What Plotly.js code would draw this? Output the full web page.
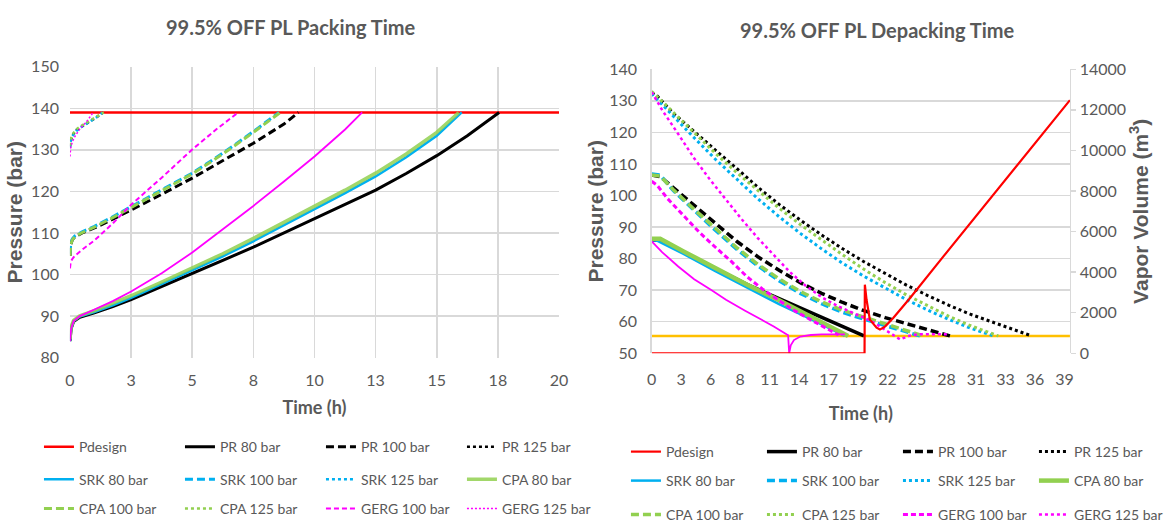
<!DOCTYPE html>
<html>
<head>
<meta charset="utf-8">
<script src="https://cdn.plot.ly/plotly-3.0.1.min.js"></script>
<style>html,body{margin:0;padding:0;background:#fff;}#chart{width:1170px;height:527px;}</style>
</head>
<body>
<div id="chart"></div>
<script>
// ---------- Packing time (left chart) ----------
const packTickVals = [0, 2.5, 5, 7.5, 10, 12.5, 15, 17.5, 20];
const packTickText = ['0', '3', '5', '8', '10', '13', '15', '18', '20'];

const packT_Pdesign = [0, 20];
const packP_Pdesign = [139, 139];

const packT_PR80 = [0, 0.05, 0.15, 0.4, 1, 1.75, 2.5, 3.75, 5, 6.25, 7.5, 8.75, 10, 11.25, 12.5, 13.75, 15, 16.25, 17.55];
const packP_PR80 = [84, 87, 88.7, 89.7, 90.8, 92.3, 94, 97.1, 100.3, 103.4, 106.6, 110, 113.4, 116.8, 120.3, 124.3, 128.6, 133.4, 139];
const packT_PR100 = [0, 0.03, 0.1, 0.2, 0.5, 1, 1.75, 2.5, 3.75, 5, 6.25, 7.5, 8.75, 9.34];
const packP_PR100 = [104.5, 107.2, 108.4, 109.1, 110, 111.2, 113.3, 115.5, 119.3, 123.2, 127.3, 131.6, 136.2, 139];
const packT_PR125 = [0, 0.03, 0.1, 0.27, 0.5, 0.82, 1.1, 1.36];
const packP_PR125 = [130.8, 132.3, 133.5, 134.8, 135.7, 136.8, 137.9, 139];

const packT_SRK80 = [0, 0.05, 0.15, 0.4, 1, 1.75, 2.5, 3.75, 5, 6.25, 7.5, 8.75, 10, 11.25, 12.5, 13.75, 15, 16.02];
const packP_SRK80 = [84, 87, 88.8, 89.9, 91, 92.6, 94.4, 97.7, 101, 104.4, 108, 111.8, 115.7, 119.6, 123.6, 128.2, 133.4, 139];
const packT_SRK100 = [0, 0.03, 0.1, 0.2, 0.5, 1, 1.75, 2.5, 3.75, 5, 6.25, 7.5, 8.55];
const packP_SRK100 = [105, 107.5, 108.6, 109.3, 110.3, 111.6, 113.9, 116.3, 120.2, 124.4, 129.2, 134.4, 139];
const packT_SRK125 = [0, 0.03, 0.1, 0.27, 0.5, 0.82, 1.1, 1.34];
const packP_SRK125 = [130.5, 132, 133.3, 134.6, 135.6, 136.8, 137.9, 139];

const packT_CPA80 = [0, 0.05, 0.15, 0.4, 1, 1.75, 2.5, 3.75, 5, 6.25, 7.5, 8.75, 10, 11.25, 12.5, 13.75, 15, 15.9];
const packP_CPA80 = [84.5, 87.5, 89, 90.1, 91.3, 93, 94.9, 98.2, 101.6, 105, 108.7, 112.5, 116.4, 120.3, 124.4, 129, 134.2, 139];
const packT_CPA100 = [0, 0.03, 0.1, 0.2, 0.5, 1, 1.75, 2.5, 3.75, 5, 6.25, 7.5, 8.6];
const packP_CPA100 = [104.5, 107.2, 108.4, 109.1, 110.1, 111.4, 113.7, 116.1, 120, 124.2, 129, 134.2, 139];
const packT_CPA125 = [0, 0.03, 0.1, 0.27, 0.5, 0.82, 1.1, 1.38];
const packP_CPA125 = [131, 132.5, 133.7, 135, 135.9, 137, 138, 139];

const packT_GERG80 = [0, 0.05, 0.15, 0.4, 1, 1.75, 2.5, 3.75, 5, 6.25, 7.5, 8.75, 10, 11.25, 11.95];
const packP_GERG80 = [84, 87, 88.8, 90, 91.6, 93.6, 95.9, 100.3, 105.3, 110.8, 116.5, 122.4, 128.4, 134.9, 139];
const packT_GERG100 = [0, 0.03, 0.1, 0.2, 0.5, 1, 1.75, 2.5, 3.75, 5, 6, 6.88];
const packP_GERG100 = [101.5, 103, 103.8, 104.5, 106, 108.2, 112.3, 116.8, 123.3, 130.1, 135, 139];
const packT_GERG125 = [0, 0.03, 0.1, 0.2, 0.4, 0.68, 0.95];
const packP_GERG125 = [128.4, 130.5, 132, 133.2, 135, 136.8, 139];

// ---------- Depacking time (right chart) ----------
const depackTickVals = [0, 2.778, 5.556, 8.333, 11.111, 13.889, 16.667, 19.444, 22.222, 25, 27.778, 30.556, 33.333, 36.111, 38.889];
const depackTickText = ['0', '3', '6', '8', '11', '14', '17', '19', '22', '25', '28', '31', '33', '36', '39'];

const depT_Pmin = [0, 39.4];
const depP_Pmin = [55.5, 55.5];

const depT_Vapor = [0, 20.05, 20.08, 20.24, 20.55, 21.18, 21.5, 22, 22.75, 24.3, 27.5, 31.9, 35, 39.4];
const depV_Vapor = [0, 0, 3380, 2640, 1660, 1260, 1170, 1330, 1740, 2700, 4790, 7620, 9620, 12480];

const depT_PR80 = [0, 0.8, 3, 6, 9, 12, 15, 18, 20];
const depP_PR80 = [86, 85.8, 82, 76.9, 71.8, 67.3, 62.8, 58.4, 55.5];
const depT_PR100 = [0, 0.8, 2, 4, 6, 8, 10, 12, 14, 16, 18, 20, 22, 24, 26, 28.1];
const depP_PR100 = [106.5, 106, 102.6, 96.8, 91.1, 85.5, 80.6, 76.3, 72.4, 69, 66.1, 63.5, 61.3, 59.3, 57.5, 55.5];
const depT_PR125 = [0, 0.5, 2, 4, 6, 8, 10, 12, 14, 16, 18, 20, 22, 24, 26, 28, 30, 32, 34, 35.8];
const depP_PR125 = [132.5, 131.6, 126.2, 120.2, 114.4, 108.6, 102.6, 97.2, 92.2, 87.5, 83.1, 79, 75.2, 71.6, 68.3, 65.2, 62.4, 60.1, 57.6, 55.5];

const depT_SRK80 = [0, 0.5, 3, 6, 9, 12, 15, 17, 18.2];
const depP_SRK80 = [86, 85.7, 81.5, 76, 70.8, 65.6, 60.8, 57.6, 55.5];
const depT_SRK100 = [0, 0.8, 2, 4, 6, 8, 10, 12, 14, 16, 18, 20, 22, 24, 25.3];
const depP_SRK100 = [106.8, 106.5, 101.7, 95.2, 89, 83, 77.7, 73, 69, 65.7, 63, 60.8, 58.7, 56.8, 55.5];
const depT_SRK125 = [0, 2, 4, 6, 8, 10, 12, 14, 16, 18, 20, 22, 24, 26, 28, 30, 32.2];
const depP_SRK125 = [132.3, 125.2, 118.3, 111.5, 105.1, 99, 93.3, 88, 83.1, 78.5, 74.4, 70.6, 67, 63.7, 60.7, 58, 55.5];

const depT_CPA80 = [0, 0.8, 3, 6, 9, 12, 15, 17, 18.5];
const depP_CPA80 = [86.3, 86.3, 82.3, 76.9, 71.7, 66.8, 61.7, 58.3, 55.5];
const depT_CPA100 = [0, 0.8, 2, 4, 6, 8, 10, 12, 14, 16, 18, 20, 22, 24, 25.6];
const depP_CPA100 = [106.5, 106.2, 102, 95.6, 89.6, 83.5, 78.2, 73.6, 69.6, 66.3, 63.6, 61.5, 59.3, 57.2, 55.5];
const depT_CPA125 = [0, 2, 4, 6, 8, 10, 12, 14, 16, 18, 20, 22, 24, 26, 28, 30, 32, 32.65];
const depP_CPA125 = [133, 126.4, 119.8, 113.4, 107.3, 101.5, 96, 90.8, 85.9, 81.2, 76.6, 72.4, 68.5, 65, 61.7, 58.8, 56.2, 55.5];

const depT_GERG80 = [0, 1, 2.5, 4, 5.65, 7, 8.8, 10, 11.5, 12.85, 12.95, 13.1, 13.4, 14, 15, 16, 18.2];
const depP_GERG80 = [85.5, 82, 77.5, 73.5, 70, 67, 63.5, 61.3, 58.5, 55.7, 50, 52.5, 54.2, 55.3, 55.8, 56, 56];
const depT_GERG100 = [0, 0.5, 1.5, 3, 4.5, 6, 7.5, 9, 10.5, 12, 13.5, 15, 16.5, 17.6];
const depP_GERG100 = [104.5, 103.3, 99, 93.5, 88.3, 83.6, 79.1, 74.2, 70.2, 66.7, 63.4, 60.6, 57.9, 55.8];
const depT_GERG125 = [0, 1, 2.5, 4, 5.5, 7, 8.5, 10, 11.5, 13, 14.5, 16, 17.5, 19, 20.5, 21.5, 22.5, 23.4, 24.3, 25, 28];
const depP_GERG125 = [132.8, 127, 119.5, 111.8, 105, 98.6, 92.4, 86.5, 81, 75.8, 71.4, 67.8, 65, 62.8, 60.5, 58.5, 56.2, 54.4, 55.6, 56, 56];

// ---------- styling ----------
const RED = '#FF0000', BLK = '#000000', BLU = '#00B0F0', GRN = '#92D050', MAG = '#FF00FF', ORG = '#FFC000';
const DASH = '8px,4px', DASH_THIN = '5px,3px', DOT_THIN = '2px,2px';
const FONT = 'Lato, "Open Sans", sans-serif';
const FONT_WIDE = '"Liberation Sans", Arial, sans-serif';
const TXT = '#595959';
const GRID = '#D9D9D9';

function line(x, y, name, color, width, dash, xa, ya, legend, show, opacity) {
  return {
    type: 'scatter', mode: 'lines', x: x, y: y, name: name,
    line: {color: color, width: width, dash: dash || 'solid'},
    xaxis: xa, yaxis: ya, legend: legend, showlegend: show !== false,
    opacity: opacity === undefined ? 1 : opacity, hoverinfo: 'skip'
  };
}

const traces = [
  // left chart
  line(packT_Pdesign, packP_Pdesign, 'Pdesign', RED, 2.5, 'solid', 'x', 'y', 'legend'),
  line(packT_PR80, packP_PR80, 'PR 80 bar', BLK, 3, 'solid', 'x', 'y', 'legend'),
  line(packT_PR100, packP_PR100, 'PR 100 bar', BLK, 3, DASH, 'x', 'y', 'legend'),
  line(packT_PR125, packP_PR125, 'PR 125 bar', BLK, 2.5, 'dot', 'x', 'y', 'legend'),
  line(packT_SRK80, packP_SRK80, 'SRK 80 bar', BLU, 2.5, 'solid', 'x', 'y', 'legend2'),
  line(packT_SRK100, packP_SRK100, 'SRK 100 bar', BLU, 3, DASH, 'x', 'y', 'legend2'),
  line(packT_SRK125, packP_SRK125, 'SRK 125 bar', BLU, 2.5, 'dot', 'x', 'y', 'legend2'),
  line(packT_CPA80, packP_CPA80, 'CPA 80 bar', GRN, 3.5, 'solid', 'x', 'y', 'legend2', true, 0.85),
  line(packT_CPA100, packP_CPA100, 'CPA 100 bar', GRN, 3, DASH, 'x', 'y', 'legend3'),
  line(packT_CPA125, packP_CPA125, 'CPA 125 bar', GRN, 2.5, 'dot', 'x', 'y', 'legend3'),
  line(packT_GERG100, packP_GERG100, 'GERG 100 bar', MAG, 2, DASH_THIN, 'x', 'y', 'legend3'),
  line(packT_GERG125, packP_GERG125, 'GERG 125 bar', MAG, 1.5, DOT_THIN, 'x', 'y', 'legend3'),
  line(packT_GERG80, packP_GERG80, 'GERG 80 bar', MAG, 1.8, 'solid', 'x', 'y', 'legend', false),
  // right chart
  line(depT_Pmin, depP_Pmin, 'Pmin', ORG, 2.5, 'solid', 'x2', 'y2', 'legend4', false),
  line(depT_PR80, depP_PR80, 'PR 80 bar', BLK, 3.5, 'solid', 'x2', 'y2', 'legend4'),
  line(depT_PR100, depP_PR100, 'PR 100 bar', BLK, 3.5, DASH, 'x2', 'y2', 'legend4'),
  line(depT_PR125, depP_PR125, 'PR 125 bar', BLK, 3, 'dot', 'x2', 'y2', 'legend4'),
  line(depT_SRK80, depP_SRK80, 'SRK 80 bar', BLU, 2.5, 'solid', 'x2', 'y2', 'legend5'),
  line(depT_SRK100, depP_SRK100, 'SRK 100 bar', BLU, 3.5, DASH, 'x2', 'y2', 'legend5'),
  line(depT_SRK125, depP_SRK125, 'SRK 125 bar', BLU, 3, 'dot', 'x2', 'y2', 'legend5'),
  line(depT_CPA80, depP_CPA80, 'CPA 80 bar', GRN, 4.5, 'solid', 'x2', 'y2', 'legend5'),
  line(depT_CPA100, depP_CPA100, 'CPA 100 bar', GRN, 3.5, DASH, 'x2', 'y2', 'legend6'),
  line(depT_CPA125, depP_CPA125, 'CPA 125 bar', GRN, 3, 'dot', 'x2', 'y2', 'legend6'),
  line(depT_GERG100, depP_GERG100, 'GERG 100 bar', MAG, 3, DASH_THIN, 'x2', 'y2', 'legend6'),
  line(depT_GERG125, depP_GERG125, 'GERG 125 bar', MAG, 2.5, 'dot', 'x2', 'y2', 'legend6'),
  line(depT_GERG80, depP_GERG80, 'GERG 80 bar', MAG, 1.8, 'solid', 'x2', 'y2', 'legend4', false),
  line(depT_Vapor, depV_Vapor, 'Pdesign', RED, 2.2, 'solid', 'x2', 'y3', 'legend4')
];
// put the Pdesign (vapor volume) entry first in its legend row
traces[traces.length - 1].legendrank = 1;

const tickFont = {family: FONT, size: 16, color: TXT};
const xTitleFont = {family: FONT, size: 18, color: TXT};
const yTitleFont = {family: FONT_WIDE, size: 21, color: TXT};

function legendRow(x, y, ew) {
  return {
    orientation: 'h', x: x, y: y, xanchor: 'left', yanchor: 'middle',
    font: {family: FONT, size: 14, color: TXT}, bgcolor: 'rgba(0,0,0,0)',
    entrywidth: ew, entrywidthmode: 'pixels', itemwidth: 30, traceorder: 'normal',
    itemclick: false, itemdoubleclick: false
  };
}

const layout = {
  width: 1170, height: 527,
  margin: {l: 0, r: 0, t: 0, b: 0, pad: 0, autoexpand: false},
  paper_bgcolor: '#ffffff', plot_bgcolor: '#ffffff',
  font: {family: FONT, color: TXT},
  hovermode: false,
  xaxis: {
    domain: [0.0598, 0.4778], range: [0, 20], anchor: 'y',
    tickmode: 'array', tickvals: packTickVals, ticktext: packTickText,
    showgrid: true, gridcolor: GRID, gridwidth: 1.5, zeroline: false, showline: false,
    ticks: '', ticklabelstandoff: 11, tickfont: tickFont, automargin: true,
    title: {text: '<b>Time (h)</b>', font: xTitleFont, standoff: 13}
  },
  yaxis: {
    domain: [0.3213, 0.8734], range: [80, 150], dtick: 10, anchor: 'x',
    showgrid: true, gridcolor: GRID, gridwidth: 1.5, zeroline: false, showline: false,
    ticks: '', ticklabelstandoff: 10, tickfont: tickFont, automargin: true,
    title: {text: '<b>Pressure (bar)</b>', font: yTitleFont, standoff: 2}
  },
  xaxis2: {
    domain: [0.557, 0.9145], range: [0, 39.4], anchor: 'y2',
    tickmode: 'array', tickvals: depackTickVals, ticktext: depackTickText,
    showgrid: false, zeroline: false, showline: false,
    ticks: '', ticklabelstandoff: 15, tickfont: tickFont, automargin: true,
    title: {text: '<b>Time (h)</b>', font: xTitleFont, standoff: 20}
  },
  yaxis2: {
    domain: [0.3296, 0.8685], range: [50, 140], dtick: 10, anchor: 'x2',
    showgrid: true, gridcolor: GRID, gridwidth: 1.5, zeroline: false,
    showline: true, linecolor: GRID, linewidth: 1.5,
    ticks: '', ticklabelstandoff: 10, tickfont: tickFont, automargin: true,
    title: {text: '<b>Pressure (bar)</b>', font: yTitleFont, standoff: 0}
  },
  yaxis3: {
    overlaying: 'y2', side: 'right', anchor: 'x2', range: [0, 14000], dtick: 2000, tickformat: 'd',
    showgrid: false, zeroline: false, showline: true, linecolor: GRID, linewidth: 1.5,
    ticks: 'outside', ticklen: 5, tickcolor: GRID, tickwidth: 1.5, tickfont: tickFont, automargin: true,
    title: {text: '<b>Vapor Volume (m<sup>3</sup>)</b>', font: yTitleFont, standoff: 1}
  },
  legend: legendRow(0.0333, 0.1514, 96),
  legend2: legendRow(0.0333, 0.0900, 96),
  legend3: legendRow(0.0333, 0.0342, 96),
  legend4: legendRow(0.535, 0.1423, 91),
  legend5: legendRow(0.535, 0.0873, 91),
  legend6: legendRow(0.535, 0.0228, 91),
  annotations: [
    {text: '<b>99.5% OFF PL Packing Time</b>', xref: 'paper', yref: 'paper', x: 0.248, y: 0.9488,
     xanchor: 'center', yanchor: 'middle', showarrow: false, font: {family: FONT, size: 20, color: TXT}},
    {text: '<b>99.5% OFF PL Depacking Time</b>', xref: 'paper', yref: 'paper', x: 0.7496, y: 0.943,
     xanchor: 'center', yanchor: 'middle', showarrow: false, font: {family: FONT, size: 20, color: TXT}}
  ]
};

Plotly.newPlot('chart', traces, layout, {displayModeBar: false, staticPlot: true});
</script>
</body>
</html>
